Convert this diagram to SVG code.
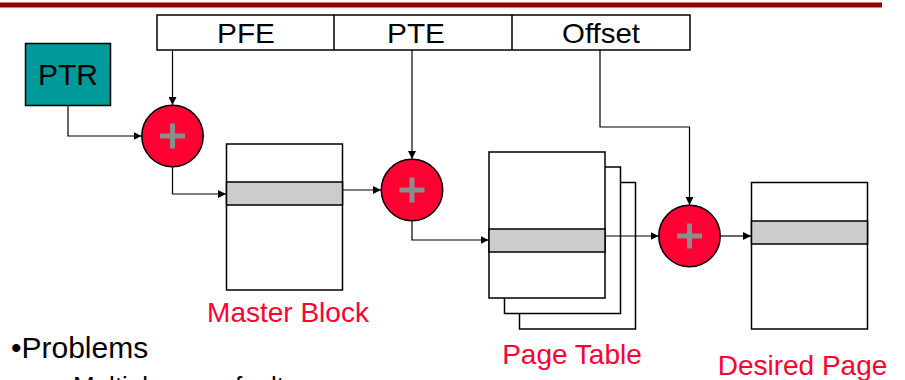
<svg xmlns="http://www.w3.org/2000/svg" width="905" height="380" viewBox="0 0 905 380">
<defs>
<style>
.t{font-family:"Liberation Sans",Arial,sans-serif;}
.box{fill:#fff;stroke:#000;stroke-width:1.5;}
.band{fill:#ccc;stroke:#000;stroke-width:1.5;}
.add{fill:#ff0033;stroke:#000;stroke-width:1.5;}
.plus{stroke:#8c8c8c;stroke-width:5;}
.conn{fill:none;stroke:#000;stroke-width:1.2;}
.lbl{font-size:28px;fill:#ff0033;text-anchor:middle;}
.fld{font-size:28px;fill:#000;text-anchor:middle;}
</style>
<marker id="ah" viewBox="0 0 10 10" refX="10" refY="5" markerWidth="8" markerHeight="8" markerUnits="userSpaceOnUse" orient="auto">
<path d="M0,0 L10,5 L0,10 z" fill="#000"/>
</marker>
</defs>
<rect x="0" y="2.5" width="882" height="5" fill="#990000"/>
<g id="address">
<rect class="box" x="157" y="15" width="533" height="35"/>
<line x1="334" y1="15" x2="334" y2="50" stroke="#000" stroke-width="1.5"/>
<line x1="512" y1="15" x2="512" y2="50" stroke="#000" stroke-width="1.5"/>
<text class="t fld" x="246" y="43" textLength="58" lengthAdjust="spacingAndGlyphs">PFE</text>
<text class="t fld" x="416" y="43" textLength="58" lengthAdjust="spacingAndGlyphs">PTE</text>
<text class="t fld" x="601" y="43" textLength="78" lengthAdjust="spacingAndGlyphs">Offset</text>
</g>
<g id="ptr">
<rect x="25.5" y="43.5" width="85" height="62" fill="#009999" stroke="#000" stroke-width="1.5"/>
<text class="t" x="68" y="85" font-size="30" text-anchor="middle" fill="#000">PTR</text>
</g>
<g id="add1">
<circle class="add" cx="172.5" cy="136" r="30.7"/>
<line class="plus" x1="160" y1="136" x2="185" y2="136"/>
<line class="plus" x1="172.5" y1="123.5" x2="172.5" y2="148.5"/>
</g>
<g id="master">
<rect class="box" x="226.5" y="144" width="116" height="146"/>
<rect class="band" x="226.5" y="182" width="116" height="23"/>
<text class="t lbl" x="288" y="322">Master Block</text>
</g>
<g id="add2">
<circle class="add" cx="412" cy="190" r="30.7"/>
<line class="plus" x1="399.5" y1="190" x2="424.5" y2="190"/>
<line class="plus" x1="412" y1="177.5" x2="412" y2="202.5"/>
</g>
<g id="pagetable">
<rect class="box" x="519.5" y="182.5" width="116" height="146.5"/>
<rect class="box" x="504.5" y="167" width="116" height="146.5"/>
<rect class="box" x="489" y="152" width="116" height="146"/>
<rect class="band" x="489" y="229" width="116" height="23"/>
<text class="t lbl" x="572" y="364">Page Table</text>
</g>
<g id="add3">
<circle class="add" cx="689.5" cy="236" r="30.7"/>
<line class="plus" x1="677" y1="236" x2="702" y2="236"/>
<line class="plus" x1="689.5" y1="223.5" x2="689.5" y2="248.5"/>
</g>
<g id="desired">
<rect class="box" x="751.5" y="182.5" width="116" height="146.5"/>
<rect class="band" x="751.5" y="221" width="116" height="23"/>
<text class="t lbl" x="802.5" y="375">Desired Page</text>
</g>
<g id="connectors">
<path class="conn" d="M172.5,50 V105" marker-end="url(#ah)"/>
<path class="conn" d="M68,105.5 V136 H141.5" marker-end="url(#ah)"/>
<path class="conn" d="M172.5,166.7 V194 H226" marker-end="url(#ah)"/>
<path class="conn" d="M342.5,190 H381" marker-end="url(#ah)"/>
<path class="conn" d="M412,50 V159" marker-end="url(#ah)"/>
<path class="conn" d="M412,220.7 V240 H488.5" marker-end="url(#ah)"/>
<path class="conn" d="M605,236 H658.5" marker-end="url(#ah)"/>
<path class="conn" d="M600,50 V127 H689.5 V205" marker-end="url(#ah)"/>
<path class="conn" d="M720.2,236 H751" marker-end="url(#ah)"/>
</g>
<g id="notes">
<text class="t" x="11" y="358" font-size="30" fill="#000">•Problems</text>
<text class="t" x="73" y="395" font-size="26" fill="#000">Multiple page faults</text>
</g>
</svg>
